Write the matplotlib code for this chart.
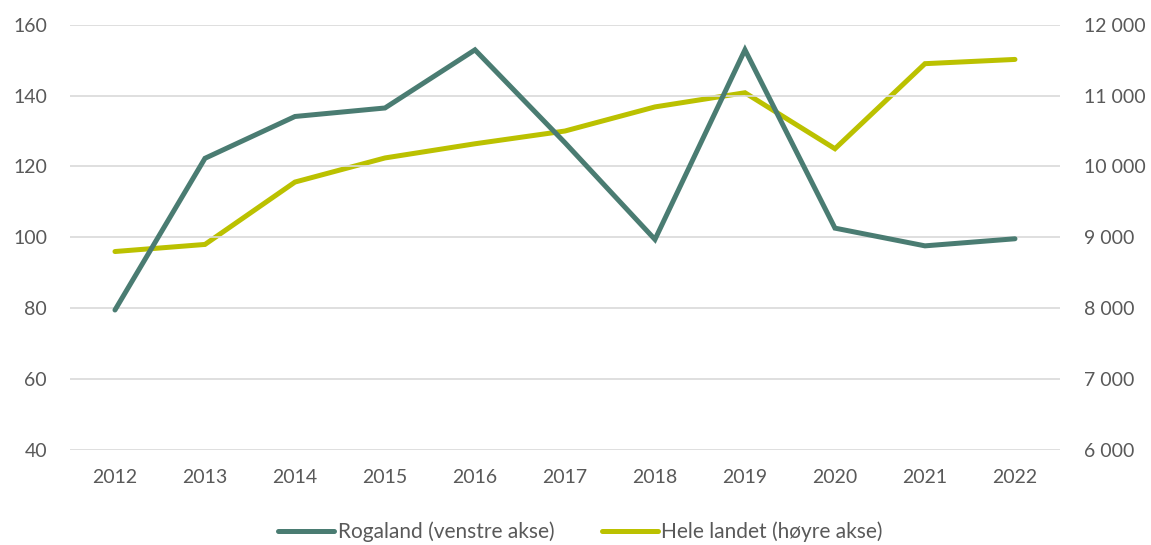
import matplotlib.pyplot as plt
from matplotlib.ticker import FuncFormatter

# Data
years = ["2012", "2013", "2014", "2015", "2016", "2017", "2018", "2019", "2020", "2021", "2022"]
rogaland = [79.5, 122.3, 134.1, 136.5, 152.9, 126.7, 99.4, 152.9, 102.6, 97.6, 99.6]
hele_landet = [8800, 8900, 9780, 10120, 10320, 10500, 10840, 11040, 10250, 11450, 11510]

left_ticks = [40, 60, 80, 100, 120, 140, 160]
right_ticks = [6000, 7000, 8000, 9000, 10000, 11000, 12000]

teal = "#4A7C72"
lime = "#BBC100"
grey_text = "#595959"
grid_col = "#D9D9D9"

plt.rcParams['font.family'] = ['Lato', 'DejaVu Sans']

fig = plt.figure(figsize=(11.51, 5.45), dpi=100)
ax = fig.add_axes([0.0608, 0.1743, 0.8601, 0.7804])
ax2 = ax.twinx()

x = list(range(len(years)))
l1, = ax.plot(x, rogaland, color=teal, linewidth=3.6, solid_capstyle='round',
              solid_joinstyle='miter', label="Rogaland (venstre akse)", zorder=3)
l2, = ax2.plot(x, hele_landet, color=lime, linewidth=3.6, solid_capstyle='round',
               solid_joinstyle='miter', label="Hele landet (høyre akse)", zorder=3)

ax.set_xlim(-0.5, len(years) - 0.5)
ax.set_ylim(40, 160)
ax2.set_ylim(6000, 12000)
ax.set_yticks(left_ticks)
ax2.set_yticks(right_ticks)
ax2.yaxis.set_major_formatter(FuncFormatter(lambda v, p: f"{int(v):,}".replace(",", " ")))
ax.set_xticks(x)
ax.set_xticklabels(years)

ax.grid(axis='y', color=grid_col, linewidth=1.2)
ax.set_axisbelow(True)
ax.set_zorder(ax2.get_zorder() + 1)
ax.patch.set_visible(False)

for a in (ax, ax2):
    for s in a.spines.values():
        s.set_visible(False)
    a.tick_params(length=0, labelsize=14, colors=grey_text)
ax.tick_params(axis='y', pad=16.5)
ax2.tick_params(axis='y', pad=17)
ax.tick_params(axis='x', pad=14)

fig.legend(handles=[l1, l2], loc='center', bbox_to_anchor=(0.5044, 0.024), ncol=2,
           frameon=False, fontsize=15, handlelength=2.7, handletextpad=0.15,
           columnspacing=2.3, labelcolor=grey_text)

fig.savefig("out.png", dpi=100)
